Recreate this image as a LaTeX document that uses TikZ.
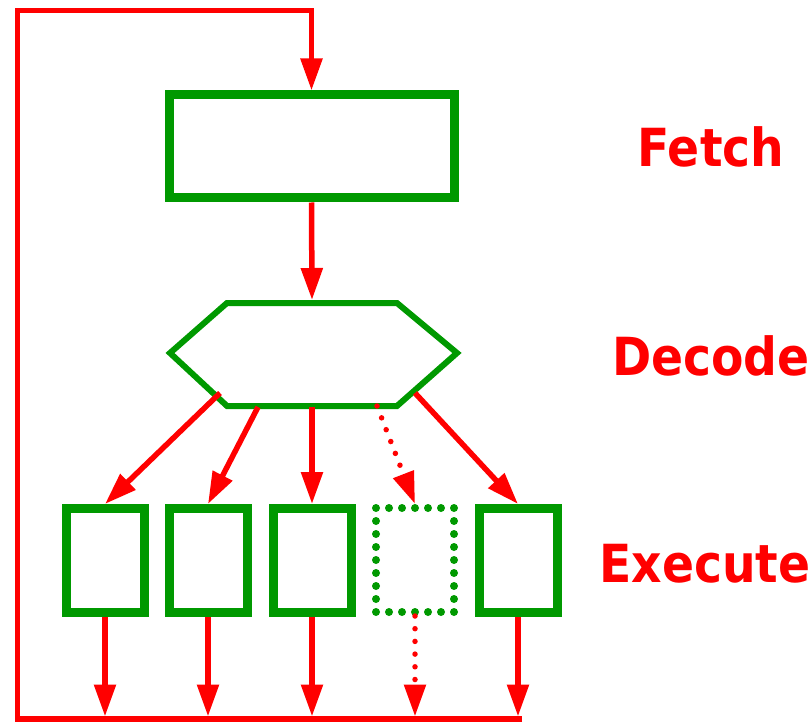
\documentclass[tikz,border=0pt]{standalone}
\usepackage{fontspec}
\usetikzlibrary{arrows.meta}
\newfontfamily\stagefont{DejaVu Sans Condensed}
\definecolor{pipered}{RGB}{255,0,0}
\definecolor{pipegreen}{RGB}{0,153,0}
\tikzset{
  unit/.style={draw=pipegreen, line width=9pt, minimum width=78pt,
    minimum height=104pt, inner sep=0pt},
  ghostunit/.style={unit, line width=8pt, line cap=round,
    dash pattern=on 0pt off 13pt},
  flow/.style={draw=pipered, line width=5.5pt,
    -{Triangle[length=32pt,width=21pt]}},
  dotflow/.style={flow, line width=5.5pt, line cap=round,
    dash pattern=on 0pt off 12.7pt},
  hexline/.style={draw=pipegreen, line width=6pt},
  stage/.style={text=pipered, anchor=base, inner sep=0pt,
    font=\stagefont\bfseries\fontsize{52.5}{60}\selectfont}
}
\begin{document}
\begin{tikzpicture}[x=1pt, y=-1pt]
  \useasboundingbox (0,0) rectangle (811,722);

  % fetch unit
  \node[unit, minimum width=285pt, minimum height=103pt] (fetch) at (311.5,146.5) {};

  % decode unit (elongated hexagon)
  \coordinate (hexW)  at (170,353);
  \coordinate (hexNW) at (227,303);
  \coordinate (hexNE) at (397,303);
  \coordinate (hexE)  at (457,353);
  \coordinate (hexSE) at (397,406);
  \coordinate (hexSW) at (227,406);
  \draw[hexline] (hexW) -- (hexNW) -- (hexNE) -- (hexE) -- (hexSE) -- (hexSW) -- cycle;
  \coordinate (decN) at (312,300);
  \coordinate (outA) at (220,393);
  \coordinate (outB) at (258,407);
  \coordinate (outC) at (312,407);
  \coordinate (outD) at (377,406);
  \coordinate (outE) at (415,393);

  % execution units
  \node[unit] (u1) at (105,560.5) {};
  \node[unit] (u2) at (208,560.5) {};
  \node[unit] (u3) at (312,560.5) {};
  \node[ghostunit] (u4) at (415,560) {};
  \node[unit] (u5) at (518,560.5) {};

  % write-back bus and loop back to fetch
  \coordinate (bus)    at (0,716.5);
  \coordinate (busEnd) at (522,719);
  \coordinate (loopTL) at (17.5,10.5);
  \draw[flow] (busEnd) -| (loopTL) -| (fetch.north);

  % fetch -> decode
  \draw[flow] (fetch.south) -- (decN);

  % decode -> execute
  \draw[flow] (outA) -- (u1.north);
  \draw[flow] (outB) -- (u2.north);
  \draw[flow] (outC) -- (u3.north);
  \draw[dotflow] (outD) -- (u4.north);
  \draw[flow] (outE) -- (u5.north);

  % execute -> bus
  \draw[flow] (u1.south) -- (u1.south |- bus);
  \draw[flow] (u2.south) -- (u2.south |- bus);
  \draw[flow] (u3.south) -- (u3.south |- bus);
  \draw[dotflow] (u4.south) -- (u4.south |- bus);
  \draw[flow] (u5.south) -- (u5.south |- bus);

  % stage labels
  \node[stage] (lfetch)   at (711,167) {Fetch};
  \node[stage] (ldecode)  at (711,375) {Decode};
  \node[stage] (lexecute) at (705,582) {Execute};
\end{tikzpicture}
\end{document}
